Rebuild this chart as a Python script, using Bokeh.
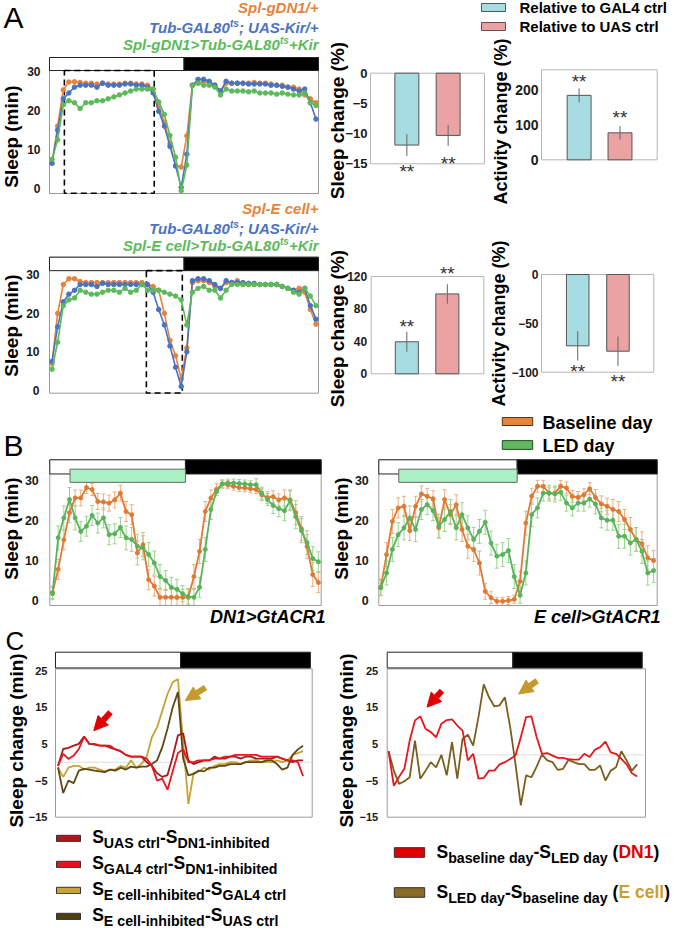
import numpy as np
from bokeh.plotting import figure
from bokeh.layouts import row, column
from bokeh.models import (ColumnDataSource, Label, Legend, LegendItem, Range1d,
                          FixedTicker, Whisker, TeeHead, Arrow, NormalHead)
from bokeh.embed import file_html
from bokeh.resources import INLINE

# ---------------------------------------------------------------- data
bins = list(range(48))          # 30-min bins over 24 h
light_bins = 24                 # bins 0-23 lights on, 24-47 lights off

# Panel A (top): Spl-gDN1 experiment, sleep (min / 30 min)
a1_gal4 = [6.5, 16.0, 25.3, 27.3, 27.4, 27.2, 27.0, 27.0, 26.8, 27.0, 26.8, 26.8, 26.8, 27.0, 27.0, 26.8,
           26.8, 26.5, 25.5, 21.0, 17.0, 11.5, 5.8, 5.5, 13.5, 26.5, 27.0, 27.5, 27.0, 26.5, 25.0, 27.0,
           27.0, 27.0, 27.0, 27.0, 27.2, 27.0, 27.0, 26.8, 26.5, 26.5, 26.0, 26.0, 25.5, 24.0, 23.0, 22.0]
a1_uas = [6.5, 15.0, 23.0, 24.5, 26.0, 26.5, 26.5, 26.5, 26.0, 27.0, 26.5, 26.5, 26.5, 26.8, 26.8, 26.5,
          26.5, 26.0, 24.5, 19.8, 16.0, 10.8, 5.8, 0.3, 8.8, 26.5, 28.0, 28.0, 27.5, 26.5, 25.0, 27.5,
          27.0, 27.0, 27.0, 26.8, 26.8, 26.8, 26.8, 26.5, 26.5, 26.2, 26.0, 25.5, 25.0, 25.5, 22.0, 17.8]
a1_exp = [7.5, 12.5, 21.5, 22.5, 22.0, 20.5, 22.0, 22.0, 22.5, 22.5, 23.0, 23.5, 24.0, 24.5, 25.0, 25.5,
          25.5, 25.5, 25.5, 22.2, 19.0, 13.6, 8.0, -0.6, 6.0, 26.4, 27.0, 26.5, 26.5, 26.0, 24.0, 25.5,
          25.0, 25.0, 25.0, 24.8, 25.0, 24.5, 24.5, 24.5, 24.2, 24.5, 24.2, 24.0, 24.0, 24.5, 22.0, 21.3]
a1_window = [2.2, 18.2]

# Panel A (bottom): Spl-E cell experiment
a2_gal4 = [7.0, 20.0, 27.5, 29.0, 29.0, 28.3, 28.0, 28.0, 28.0, 28.0, 28.0, 28.0, 28.0, 28.0, 28.0, 28.0,
           28.0, 27.5, 27.0, 26.0, 20.0, 13.0, 9.0, 3.0, 11.0, 28.0, 28.5, 28.5, 28.0, 27.0, 26.5, 28.0,
           28.0, 28.5, 27.5, 27.5, 27.5, 27.5, 27.5, 27.5, 27.5, 27.0, 26.5, 26.0, 26.5, 25.5, 21.0, 17.2]
a2_uas = [7.5, 16.5, 23.0, 25.0, 26.0, 27.5, 27.5, 27.5, 27.0, 27.8, 27.5, 27.5, 27.5, 27.5, 27.5, 27.5,
          27.5, 27.5, 25.5, 21.0, 17.0, 11.5, 6.0, 1.0, 10.0, 28.5, 29.0, 29.0, 28.5, 27.5, 26.5, 28.5,
          28.0, 28.0, 28.0, 27.8, 27.8, 27.5, 27.5, 27.5, 27.5, 27.0, 26.5, 26.0, 25.5, 26.5, 22.0, 18.5]
a2_exp = [5.5, 12.5, 22.0, 23.5, 24.0, 26.0, 25.5, 25.0, 25.0, 25.5, 26.0, 26.0, 25.5, 26.5, 25.5, 26.0,
          27.5, 26.0, 26.0, 26.0, 25.5, 25.0, 24.5, 23.5, 17.0, 25.5, 26.5, 27.0, 26.0, 26.0, 24.0, 26.0,
          27.5, 27.5, 27.5, 27.5, 27.5, 27.5, 27.5, 27.5, 27.5, 27.0, 26.5, 25.5, 25.0, 26.5, 24.5, 22.0]
a2_window = [16.8, 23.2]

# Panel A bar charts (% change, relative to GAL4 ctrl / UAS ctrl)
bar_x = [1, 2]
a1_sleep_change = [-11.9, -10.3]
a1_sleep_err = [1.8, 1.75]
a1_sleep_star = [-17.3, -16.0]
a1_act_change = [184.0, 77.0]
a1_act_err = [20.0, 19.0]
a1_act_star = [204.9, 102.0]
a2_sleep_change = [39.5, 98.5]
a2_sleep_err = [12.3, 12.0]
a2_sleep_star = [49.9, 115.0]
a2_act_change = [-73.0, -78.5]
a2_act_err = [15.0, 15.0]
a2_act_star = [-106.4, -116.6]

# Panel B: baseline day vs LED day
b_dn1_base = [2.0, 7.8, 15.2, 22.0, 25.7, 25.7, 28.3, 27.8, 24.8, 24.7, 24.4, 25.2, 26.9, 22.3, 21.5, 11.9,
              14.0, 5.2, 3.6, 0.8, 0.8, 0.8, 0.8, 0.8, 0.8, 6.0, 12.3, 22.3, 25.7, 27.8, 29.2, 29.0,
              28.6, 28.3, 28.2, 28.0, 27.8, 26.5, 25.8, 26.0, 25.2, 25.7, 25.2, 22.0, 18.0, 13.5, 6.5, 4.5]
b_dn1_base_err = [1.5, 2.5, 2.5, 2.5, 2.0, 2.0, 1.5, 1.5, 2.0, 2.0, 2.0, 2.0, 2.0, 2.5, 2.5, 3.0,
                  3.0, 2.5, 2.5, 2.0, 2.0, 2.0, 2.0, 2.0, 2.0, 3.0, 3.0, 2.5, 2.0, 1.5, 1.0, 1.0,
                  1.0, 1.0, 1.0, 1.0, 1.0, 1.5, 1.5, 1.5, 1.5, 2.0, 2.5, 3.0, 3.0, 3.0, 3.0, 2.5]
b_dn1_led = [1.7, 15.7, 20.7, 25.3, 20.7, 17.3, 18.6, 21.3, 19.4, 20.7, 16.5, 16.7, 18.3, 15.7, 15.3, 13.6,
             13.2, 11.5, 9.4, 6.0, 5.0, 3.3, 2.8, 1.7, 1.0, 0.8, 3.3, 12.8, 22.8, 27.3, 29.2, 29.4,
             29.4, 29.3, 29.2, 29.0, 29.0, 26.9, 25.3, 23.8, 23.0, 22.5, 25.0, 21.0, 17.5, 14.5, 10.5, 9.7]
b_dn1_led_err = [1.5, 3.0, 3.0, 3.0, 3.0, 2.5, 2.5, 2.5, 2.5, 2.5, 2.5, 2.5, 2.5, 3.0, 3.0, 3.0,
                 3.0, 3.0, 3.0, 3.0, 2.5, 2.5, 2.5, 2.0, 2.0, 2.0, 2.5, 3.0, 2.5, 1.0, 1.0, 1.0,
                 1.0, 1.0, 1.0, 1.0, 1.5, 1.5, 1.5, 2.0, 2.0, 2.5, 2.5, 3.0, 3.0, 3.0, 3.0, 2.5]
b_ec_base = [3.3, 11.5, 19.8, 23.2, 23.6, 17.5, 23.6, 26.7, 26.1, 25.5, 18.2, 25.3, 21.5, 24.0, 17.8, 13.6,
             12.8, 9.4, 2.3, 0.7, -0.2, -0.2, 0.0, 0.3, 4.8, 19.4, 26.1, 28.6, 28.6, 26.9, 26.9, 28.6,
             28.2, 26.1, 25.8, 26.5, 28.0, 25.8, 24.2, 23.6, 22.8, 22.3, 20.3, 17.8, 15.3, 14.2, 10.7, 10.0]
b_ec_base_err = [2.0, 3.0, 3.0, 2.5, 2.5, 2.5, 2.5, 2.0, 2.0, 2.0, 2.5, 2.5, 2.5, 2.5, 3.0, 3.0,
                 3.0, 3.0, 2.0, 1.5, 1.0, 1.0, 1.0, 1.0, 2.5, 3.0, 2.0, 1.5, 1.5, 1.5, 1.5, 1.5,
                 1.5, 1.5, 1.5, 1.5, 1.5, 2.0, 2.0, 2.0, 2.5, 2.5, 2.5, 3.0, 3.0, 3.0, 3.0, 2.5]
b_ec_led = [3.2, 6.9, 12.8, 16.5, 18.2, 20.7, 17.8, 22.8, 24.0, 22.5, 18.6, 20.3, 22.3, 18.2, 21.5, 18.2,
            15.3, 17.3, 19.6, 14.4, 11.1, 11.5, 12.5, 6.0, 1.3, 6.9, 21.5, 23.2, 26.9, 26.9, 26.7, 27.1,
            24.4, 23.2, 24.4, 24.4, 25.4, 24.2, 20.7, 20.1, 20.1, 16.1, 16.1, 14.4, 15.3, 12.3, 6.9, 7.5]
b_ec_led_err = [2.0, 3.0, 3.0, 3.0, 3.0, 3.0, 3.0, 2.5, 2.5, 2.5, 3.0, 3.0, 3.0, 3.0, 3.0, 3.0,
                3.0, 3.0, 3.0, 3.0, 3.0, 3.0, 3.0, 3.0, 2.0, 3.0, 3.0, 2.5, 2.0, 2.0, 2.0, 2.0,
                2.0, 2.0, 2.0, 2.0, 2.0, 2.5, 2.5, 2.5, 2.5, 3.0, 3.0, 3.0, 3.0, 3.0, 3.0, 3.0]
led_window = [3.1, 23.5]

# Panel C: sleep differences (min)
c_uas_dn1 = [-1.0, 3.6, 3.9, 4.5, 5.0, 7.0, 5.0, 4.8, 4.5, 4.5, 4.0, 3.5, 3.0, 2.0, 1.5, 1.5,
             1.5, 0.0, -1.0, -3.0, -4.0, -3.5, 1.5, 7.3, 7.9, 0.5, -0.5, 0.0, 0.5, 0.5, 1.5, 1.0,
             1.0, 1.5, 1.5, 1.0, 1.5, 1.5, 1.0, 1.0, 1.0, 1.0, 1.5, 1.0, 0.5, 0.0, 0.5, 0.5]
c_gal4_dn1 = [-1.0, 2.3, 0.9, 1.8, 3.6, 7.0, 5.0, 5.0, 4.5, 4.5, 4.5, 3.5, 3.0, 2.0, 1.5, 1.5,
              1.5, 1.0, -1.0, -5.0, -4.5, -7.5, -2.5, 2.5, 3.5, 0.0, 0.0, 0.5, 0.5, 0.5, 1.0, 1.0,
              1.5, 1.5, 2.0, 2.0, 2.0, 2.0, 2.0, 1.5, 1.5, 1.5, 1.5, 1.0, 0.5, 0.5, 0.0, -3.8]
c_ec_gal4 = [-1.5, -4.0, -1.5, -1.0, -1.0, -2.0, -1.5, -1.5, -2.0, -2.5, -2.0, -2.0, -1.0, -1.5, 0.5, -1.5,
             -0.5, 1.4, 6.8, 9.5, 14.0, 18.6, 21.8, 22.7, 5.5, -11.4, -3.0, -2.5, -1.5, -2.0, -1.0, -0.5,
             -0.5, 0.0, 0.0, -0.5, 0.0, 0.5, 0.5, 0.0, 0.0, 0.0, 0.5, 0.0, 0.5, 2.0, 2.5, 3.0]
c_ec_uas = [-1.4, -8.4, -5.0, -5.7, -2.3, -1.8, -2.0, -2.3, -2.5, -2.7, -2.0, -2.3, -1.5, -2.0, -1.2, -1.5,
            -1.2, -1.2, -0.5, 0.5, 4.1, 9.1, 15.0, 19.1, 1.0, -3.6, -3.2, -2.3, -2.5, -1.5, -1.5, -1.0,
            -1.0, -0.5, -0.5, -0.5, 0.0, 0.0, 0.0, 0.0, 0.5, 0.5, -0.5, -2.0, -1.5, 2.0, 3.5, 4.5]
c_dn1_diff = [3.0, -6.4, -4.0, -1.8, 5.9, 11.4, 12.5, 9.1, 8.2, 6.8, 10.5, 11.5, 11.7, 10.0, 8.6, 0.5,
              2.3, -4.5, -4.3, -2.3, -2.3, -0.6, 0.0, 0.9, 1.8, 6.8, 12.3, 12.5, 6.8, 2.3, 2.5, 1.8,
              1.2, 1.2, 0.8, 0.7, 0.7, 2.3, 1.4, 3.4, 4.1, 5.6, 2.7, 2.3, 0.9, -0.6, -3.0, -3.9]
c_ec_diff = [3.0, -2.3, -5.9, -5.2, -4.1, 5.9, -4.5, -2.3, 0.0, -1.4, 2.0, -3.6, 5.5, -4.5, 6.4, 7.5,
             4.5, 12.3, 21.2, 17.7, 15.2, 15.5, 17.7, 9.5, -0.5, -11.8, -3.6, -4.1, -1.2, 2.1, 0.5, 0.0,
             -2.1, -1.8, 0.6, 0.0, -0.5, -0.5, -2.1, -2.1, -0.9, -5.0, -2.3, -1.4, 3.0, 0.5, -2.3, -0.6]
c_left_ref = 0.0
c_right_ref = 2.0

for _s in [a1_gal4, a1_uas, a1_exp, a2_gal4, a2_uas, a2_exp, b_dn1_base, b_dn1_base_err, b_dn1_led,
           b_dn1_led_err, b_ec_base, b_ec_base_err, b_ec_led, b_ec_led_err, c_uas_dn1, c_gal4_dn1,
           c_ec_gal4, c_ec_uas, c_dn1_diff, c_ec_diff]:
    assert len(_s) == 48, len(_s)

# ---------------------------------------------------------------- style
FONT = "Liberation Sans"
ORANGE, BLUE, GREEN = "#E8823A", "#4A72C2", "#5DBA5B"
B_ORANGE, B_GREEN = "#E07A33", "#58B45A"
B_ORANGE_ERR, B_GREEN_ERR = "#F0AE80", "#9BD48D"
CYAN, PINK = "#A7DCE3", "#EBA2A3"
LED = "#AAF2C3"
DARKRED, RED, GOLD, OLIVE = "#A51A1A", "#E8161C", "#C8A232", "#5C4816"
OLIVE_R = "#7B5E1E"
DAY_END = light_bins - 0.5
BI = "bold italic"
NAN = np.array([np.nan])
BASE_SHIFT = 0.35   # alphabetic-baseline labels are drawn this many em lower than asked

AW = {' ': 278, '%': 889, '(': 333, ')': 333, '*': 389, '+': 584, '-': 333, '/': 278, ';': 333, '>': 584,
      'A': 722, 'B': 722, 'C': 722, 'D': 722, 'E': 667, 'G': 778, 'K': 722, 'L': 611, 'N': 722, 'R': 722,
      'S': 667, 'T': 611, 'U': 722, 'a': 556, 'b': 611, 'c': 556, 'd': 611, 'e': 556, 'g': 611, 'h': 611,
      'i': 278, 'l': 278, 'n': 611, 'p': 611, 'r': 389, 's': 556, 't': 333, 'u': 611, 'y': 556}


def tw(s, size):
    return sum(AW.get(ch, 556) for ch in s) * size / 1000.0


def blank_fig(canvas):
    fx, fy, w, h = canvas
    p = figure(width=w, height=h, x_range=Range1d(0, 1), y_range=Range1d(0, 1),
               output_backend="svg", toolbar_location=None, title=None,
               x_axis_location=None, y_axis_location=None,
               min_border_left=0, min_border_right=0, min_border_top=0, min_border_bottom=0)
    p.grid.visible = False
    p.outline_line_color = None
    p.background_fill_color = "white"
    p.border_fill_color = "white"
    return p, (fx, fy + h)


def make_fig(canvas, area, xr, yr, yticks, tick_px, standoff, outline="#9a9a9a", outline_top=None):
    """canvas: (left, top, w, h) in page px; area: plot box (left, right, top, bottom) in page px;
    xr/yr: data values at the plot box edges.  The frame fills the canvas and the y axis is
    pinned at the plot box's left edge."""
    fx, fy, w, h = canvas
    px0, px1, pyt, pyb = area
    x0, x1 = xr
    y0, y1 = yr
    kx = (x1 - x0) / (px1 - px0)
    ky = (y1 - y0) / (pyb - pyt)
    X0 = x0 - (px0 - fx) * kx
    X1 = x1 + (fx + w - px1) * kx
    Y1 = y1 + (pyt - fy) * ky
    Y0 = y0 - (fy + h - pyb) * ky
    p = figure(width=w, height=h, x_range=Range1d(X0, X1), y_range=Range1d(Y0, Y1),
               output_backend="svg", toolbar_location=None, title=None, x_axis_location=None,
               min_border_left=0, min_border_right=0, min_border_top=0, min_border_bottom=0)
    p.grid.visible = False
    p.outline_line_color = None
    p.background_fill_color = "white"
    p.border_fill_color = "white"
    ya = p.yaxis[0]
    ya.fixed_location = x0
    ya.ticker = FixedTicker(ticks=yticks)
    ya.major_tick_line_color = None
    ya.minor_tick_line_color = None
    ya.major_tick_out = 0
    ya.major_tick_in = 0
    ya.minor_tick_out = 0
    ya.minor_tick_in = 0
    ya.axis_line_color = None
    ya.major_label_standoff = standoff
    ya.major_label_text_font = FONT
    ya.major_label_text_font_style = "bold"
    ya.major_label_text_font_size = f"{tick_px}px"
    ya.major_label_text_color = "#1a1a1a"
    p.quad(left=[x0], right=[x1], bottom=[y0], top=[y1 if outline_top is None else outline_top],
           fill_alpha=0, line_color=outline, line_width=1)
    return p, (fx, fy + h)


def put(p, fr, x, y, text, size, color="black", style="bold", align="left",
        baseline="alphabetic", angle=0):
    fl, fb = fr
    if baseline == "alphabetic":
        y = y - BASE_SHIFT * size
    p.add_layout(Label(x=x - fl, y=fb - y, x_units="screen", y_units="screen", text=text,
                       text_font=FONT, text_font_size=f"{size}px", text_font_style=style,
                       text_color=color, text_align=align, text_baseline=baseline,
                       angle=angle, angle_units="deg"))


def rich(p, fr, x, y, segs, align="left"):
    total = sum(tw(s[0], s[1]) for s in segs)
    cx = x - total if align == "right" else x
    for t, s, color, dy, style in segs:
        lead = len(t) - len(t.lstrip(" "))
        txt = t.strip(" ")
        if txt:
            put(p, fr, cx + tw(" " * lead, s), y - dy, txt, s, color, style)
        cx += tw(t, s)


def ytitle(p, fr, x, y, text, size=19):
    put(p, fr, x, y, text, size, align="center", baseline="middle", angle=90)


def swatch(p, fill, line):
    return p.quad(left=NAN, right=NAN, bottom=NAN, top=NAN, fill_color=fill, line_color=line,
                  line_width=1)


def key(p, fr, renderer, x0, y0, x1, y1):
    fl, fb = fr
    p.add_layout(Legend(items=[LegendItem(label=" ", renderers=[renderer])],
                        location=(x0 - fl, fb - y1), glyph_width=int(round(x1 - x0)),
                        glyph_height=int(round(y1 - y0)), label_height=int(round(y1 - y0)),
                        label_width=0, label_standoff=0, label_text_font_size="1px",
                        padding=0, margin=0, spacing=0, border_line_alpha=0,
                        background_fill_alpha=0))


def day_night(p, x0, x1, y0, y1):
    p.quad(left=[x0, DAY_END], right=[DAY_END, x1], bottom=[y0, y0], top=[y1, y1],
           fill_color=["white", "black"], line_color="#222222", line_width=1)


def traces(p, series, colors, size, width):
    for ys, c in zip(series, colors):
        src = ColumnDataSource(dict(x=bins, y=ys))
        p.line("x", "y", source=src, line_color=c, line_width=width)
        p.scatter("x", "y", source=src, size=size, marker="circle", fill_color=c, line_color=c)


def errbars(p, ys, es, c):
    src = ColumnDataSource(dict(x=bins, lo=[y - e for y, e in zip(ys, es)],
                                hi=[y + e for y, e in zip(ys, es)]))
    p.add_layout(Whisker(source=src, base="x", lower="lo", upper="hi", line_color=c, line_width=1,
                         lower_head=TeeHead(size=4, line_color=c, line_width=1),
                         upper_head=TeeHead(size=4, line_color=c, line_width=1)))


def bars(p, vals, errs, stars_y, width=0.58):
    r1 = p.vbar(x=[bar_x[0]], top=[vals[0]], bottom=[0], width=width, fill_color=CYAN,
                line_color="#555555", line_width=1)
    r2 = p.vbar(x=[bar_x[1]], top=[vals[1]], bottom=[0], width=width, fill_color=PINK,
                line_color="#555555", line_width=1)
    p.segment(x0=bar_x, x1=bar_x, y0=[v - e for v, e in zip(vals, errs)],
              y1=[v + e for v, e in zip(vals, errs)], line_color="#666666", line_width=1)
    for x, y in zip(bar_x, stars_y):
        p.add_layout(Label(x=x, y=y, y_offset=BASE_SHIFT * 19, text="**", text_font=FONT,
                           text_font_size="19px", text_font_style="normal", text_color="#333333",
                           text_align="center", text_baseline="alphabetic"))
    return r1, r2


def dashed_window(p, win, y0, y1):
    p.quad(left=[win[0]], right=[win[1]], bottom=[y0], top=[y1], fill_alpha=0,
           line_color="black", line_width=1.6, line_dash="6 4")


# ================================================================ panel A, line plots
A1, fa1 = make_fig((0, 0, 326, 198), (49, 318, 57, 193), (-0.45, 47.45), (-1.28, 33.6),
                   [0, 10, 20, 30], 12, 9)
day_night(A1, -0.45, 47.45, 30.26, 33.6)
dashed_window(A1, a1_window, -1.2, 30.26)
traces(A1, [a1_gal4, a1_uas, a1_exp], [ORANGE, BLUE, GREEN], 4.5, 1.6)
put(A1, fa1, 3, 27.5, "A", 30, style="normal")
ytitle(A1, fa1, 10.5, 136, "Sleep (min)")
rich(A1, fa1, 318, 12.5, [("Spl-gDN1/+", 15, ORANGE, 0, BI)], align="right")
rich(A1, fa1, 318, 32.7, [("Tub-GAL80", 15, BLUE, 0, BI), ("ts", 10, BLUE, 6, BI),
                          ("; UAS-Kir/+", 15, BLUE, 0, BI)], align="right")
rich(A1, fa1, 318, 49.3, [("Spl-gDN1>Tub-GAL80", 15, GREEN, 0, BI), ("ts", 10, GREEN, 6, BI),
                          ("+Kir", 15, GREEN, 0, BI)], align="right")

A2, fa2 = make_fig((0, 198, 326, 210), (49, 318, 256.7, 392.7), (-0.45, 47.45), (-0.75, 34.6),
                   [0, 10, 20, 30], 12, 10)
day_night(A2, -0.45, 47.45, 31.1, 34.6)
dashed_window(A2, a2_window, -0.7, 31.1)
traces(A2, [a2_gal4, a2_uas, a2_exp], [ORANGE, BLUE, GREEN], 4.5, 1.6)
ytitle(A2, fa2, 10.5, 325, "Sleep (min)")
rich(A2, fa2, 318, 213.3, [("Spl-E cell+", 15, ORANGE, 0, BI)], align="right")
rich(A2, fa2, 318, 233.3, [("Tub-GAL80", 15, BLUE, 0, BI), ("ts", 10, BLUE, 6, BI),
                           ("; UAS-Kir/+", 15, BLUE, 0, BI)], align="right")
rich(A2, fa2, 318, 250, [("Spl-E cell>Tub-GAL80", 15, GREEN, 0, BI), ("ts", 10, GREEN, 6, BI),
                         ("+Kir", 15, GREEN, 0, BI)], align="right")

# ================================================================ panel A, bar charts
LEG, fleg = blank_fig((326, 0, 350, 38))
key(LEG, fleg, swatch(LEG, CYAN, "#555555"), 478, 2, 508, 12)
put(LEG, fleg, 519, 12.5, "Relative to GAL4 ctrl", 15)
key(LEG, fleg, swatch(LEG, PINK, "#555555"), 478, 21, 508, 31)
put(LEG, fleg, 519, 31.5, "Relative to UAS ctrl", 15)

S1, fs1 = make_fig((326, 38, 164, 160), (370, 484, 72.7, 163.3), (0.12, 2.88), (-15, 0),
                   [-15, -10, -5, 0], 13, 3, outline="#b5b5b5")
bars(S1, a1_sleep_change, a1_sleep_err, a1_sleep_star)
ytitle(S1, fs1, 337, 120, "Sleep change (%)")

T1, ft1 = make_fig((490, 38, 186, 169), (541, 656.7, 69.3, 159.3), (0.08, 2.91), (0, 257),
                   [0, 100, 200], 14, 3, outline="#b5b5b5")
bars(T1, a1_act_change, a1_act_err, a1_act_star, width=0.585)
ytitle(T1, ft1, 500, 121, "Activity change (%)", 18)

S2, fs2 = make_fig((326, 198, 164, 210), (370.7, 483.3, 276, 373.3), (0.12, 2.9), (0, 120),
                   [0, 40, 80, 120], 12, 4, outline="#b5b5b5")
bars(S2, a2_sleep_change, a2_sleep_err, a2_sleep_star, width=0.57)
ytitle(S2, fs2, 337, 328, "Sleep change (%)")

T2, ft2 = make_fig((490, 207, 186, 201), (541, 653.3, 274, 371.7), (0.1, 2.89), (-100, 0),
                   [-100, -50, 0], 12, 3, outline="#b5b5b5")
bars(T2, a2_act_change, a2_act_err, a2_act_star, width=0.56)
ytitle(T2, ft2, 498, 323, "Activity change (%)", 18)

# ================================================================ panel B
BL, fbl = make_fig((0, 408, 330, 218), (49.3, 320.7, 459.3, 605), (-0.48, 47.5), (-1.25, 35.25),
                   [0, 10, 20, 30], 12.5, 11)
BR, fbr = make_fig((330, 408, 346, 218), (378.3, 656.7, 459.3, 605), (-0.34, 47.63), (-1.25, 35.25),
                   [0, 10, 20, 30], 12.5, 10)
for p, xr, base, base_e, led, led_e in [(BL, (-0.48, 47.5), b_dn1_base, b_dn1_base_err, b_dn1_led, b_dn1_led_err),
                                        (BR, (-0.34, 47.63), b_ec_base, b_ec_base_err, b_ec_led, b_ec_led_err)]:
    day_night(p, xr[0], xr[1], 31.7, 35.25)
    p.quad(left=[led_window[0]], right=[led_window[1]], bottom=[29.6], top=[32.9],
           fill_color=LED, line_color="#666666", line_width=1)
    errbars(p, base, base_e, B_ORANGE_ERR)
    errbars(p, led, led_e, B_GREEN_ERR)
    traces(p, [base, led], [B_ORANGE, B_GREEN], 4, 1.8)
put(BL, fbl, 3, 455, "B", 30, style="normal")
ytitle(BL, fbl, 11, 528, "Sleep (min)")
ytitle(BR, fbr, 341, 528, "Sleep (min)")
put(BL, fbl, 325, 623, "DN1>GtACR1", 18, style=BI, align="right")
put(BR, fbr, 660, 623, "E cell>GtACR1", 18, style=BI, align="right")
key(BR, fbr, swatch(BR, "#E8833A", "#5a3010"), 498, 416, 536, 426)
put(BR, fbr, 542, 428.5, "Baseline day", 18)
key(BR, fbr, swatch(BR, "#62B862", "#1f4f1f"), 498, 439, 536, 450)
put(BR, fbr, 542, 451.5, "LED day", 18)

# ================================================================ panel C
CL, fcl = make_fig((0, 626, 330, 306), (55, 311.7, 651.7, 816.7), (-0.48, 48.75), (-15, 30),
                   [-15, -5, 5, 15, 25], 11, 8, outline_top=25.45)
CR, fcr = make_fig((330, 626, 346, 306), (386.7, 645, 651.7, 816.7), (-0.25, 48.57), (-15, 30),
                   [-15, -5, 5, 15, 25], 11, 9, outline_top=25.45)
day_night(CL, -0.48, 48.4, 25.7, 30)
day_night(CR, -0.25, 47.95, 25.7, 30)
CL.segment(x0=[-0.48], x1=[48.75], y0=[c_left_ref], y1=[c_left_ref], line_color="#dddddd", line_width=1)
CR.segment(x0=[-0.25], x1=[48.57], y0=[c_right_ref], y1=[c_right_ref], line_color="#dddddd", line_width=1)
for ys, c in [(c_ec_gal4, GOLD), (c_ec_uas, OLIVE), (c_uas_dn1, DARKRED), (c_gal4_dn1, RED)]:
    CL.line(bins, ys, line_color=c, line_width=1.8)
for ys, c in [(c_ec_diff, OLIVE_R), (c_dn1_diff, RED)]:
    CR.line(bins, ys, line_color=c, line_width=1.8)

for p, arrows in [(CL, [((10.06, 13.6), (6.86, 8.6), "#E00000"), ((28.3, 20.4), (24.4, 16.8), "#C49A2C")]),
                  (CR, [((10.1, 19.5), (7.27, 15.0), "#E00000"), ((28.1, 22.2), (24.6, 18.6), "#C49A2C")])]:
    for (xs, ys), (xe, ye), c in arrows:
        p.add_layout(Arrow(end=NormalHead(size=14, fill_color=c, line_color=c, line_width=1),
                           x_start=xs, y_start=ys, x_end=xe, y_end=ye, line_color=c, line_width=6))

put(CL, fcl, 5, 650, "C", 26, style="normal")
ytitle(CL, fcl, 16, 740, "Sleep change (min)")
ytitle(CR, fcr, 346, 740, "Sleep change (min)")

MS, SS = 17.5, 14.2
left_items = [
    ("#A8181C", "UAS ctrl", "DN1-inhibited"),
    ("#E3141B", "GAL4 ctrl", "DN1-inhibited"),
    ("#C9A33A", "E cell-inhibited", "GAL4 ctrl"),
    ("#4F3D12", "E cell-inhibited", "UAS ctrl"),
]
for i, (c, s1, s2) in enumerate(left_items):
    top = 833 + 26 * i
    key(CL, fcl, swatch(CL, c, "#333333"), 53, top, 83, top + 8.5)
    rich(CL, fcl, 91.7, top + 10, [("S", MS, "black", 0, "bold"), (s1, SS, "black", -4, "bold"),
                                   ("-", MS, "black", 0, "bold"), ("S", MS, "black", 0, "bold"),
                                   (s2, SS, "black", -4, "bold")])

right_items = [
    ("#E00000", "baseline day", "LED day", "DN1", "#E00000"),
    ("#8A6A24", "LED day", "baseline day", "E cell", "#C8A030"),
]
for i, (c, s1, s2, who, wc) in enumerate(right_items):
    top = 846 + 40.5 * i
    key(CR, fcr, swatch(CR, c, "#333333"), 390, top, 428, top + 11.5)
    rich(CR, fcr, 436, top + 11.3, [("S", MS, "black", 0, "bold"), (s1, SS, "black", -5, "bold"),
                                    ("-", MS, "black", 0, "bold"), ("S", MS, "black", 0, "bold"),
                                    (s2, SS, "black", -5, "bold"), (" (", MS, "black", 0, "bold"),
                                    (who, MS, wc, 0, "bold"), (")", MS, "black", 0, "bold")])

top_right = column(LEG, row(column(S1, S2), column(T1, T2)))
layout = column(row(column(A1, A2), top_right), row(BL, BR), row(CL, CR))
open("out.html", "w").write(file_html(layout, INLINE, title="Sleep figure"))
